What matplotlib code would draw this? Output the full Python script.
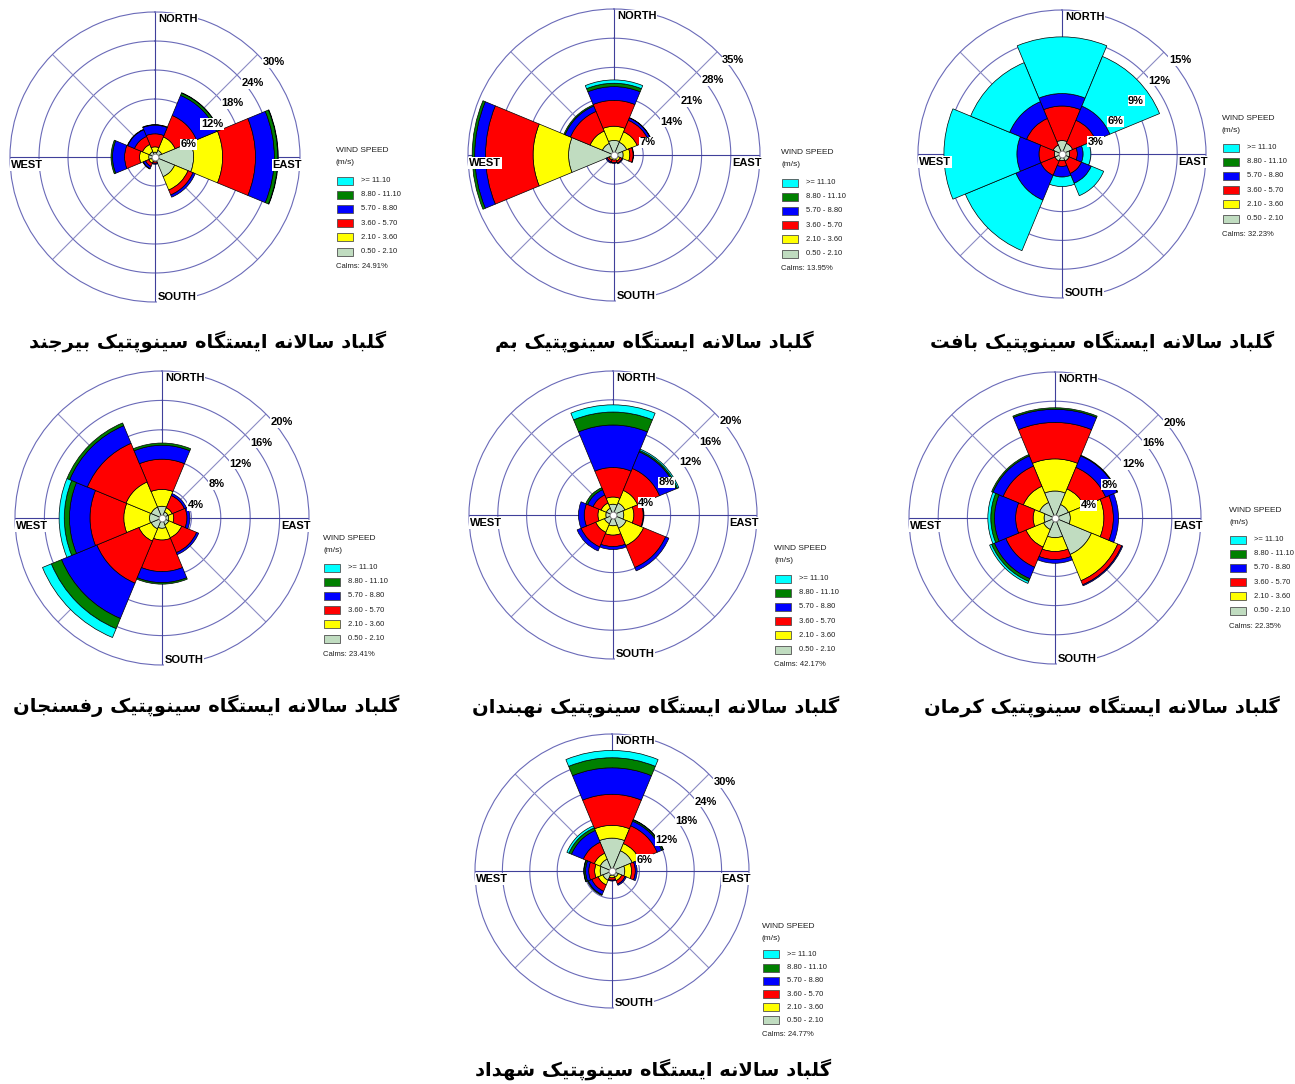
import numpy as np
import matplotlib
matplotlib.use('Agg')
import matplotlib.pyplot as plt
from matplotlib.patches import Rectangle

plt.rcParams['font.family'] = ['Liberation Sans', 'DejaVu Sans']

W_PX, H_PX = 1295, 1084

# compass sectors, clockwise from north
directions = ['N', 'NE', 'E', 'SE', 'S', 'SW', 'W', 'NW']
dir_angles = np.radians(np.arange(0, 360, 45))

# speed classes, inner to outer
class_colors = ['#C0DCC0', '#FFFF00', '#FF0000', '#0000FF', '#008000', '#00FFFF']
legend_labels = ['>= 11.10', '8.80 - 11.10', '5.70 - 8.80', '3.60 - 5.70', '2.10 - 3.60', '0.50 - 2.10']
legend_colors = class_colors[::-1]

# cumulative frequency (%) per direction N..NW, classes 0.5-2.1 .. >=11.1
birjand = [[1.0, 2.1, 4.8, 6.6, 6.7, 6.7],
           [1.5, 4.5, 9.3, 13.8, 14.3, 14.4],
           [8.0, 14.0, 20.8, 24.7, 25.4, 25.5],
           [4.4, 7.4, 8.5, 9.0, 9.0, 9.0],
           [0.7, 1.0, 1.3, 1.5, 1.5, 1.5],
           [0.8, 1.4, 2.1, 2.6, 2.7, 2.7],
           [1.3, 3.2, 6.3, 8.8, 9.1, 9.1],
           [1.2, 2.8, 4.6, 6.1, 6.2, 6.2]]
bam = [[3.5, 6.9, 13.1, 16.4, 17.2, 18.0],
       [3.3, 6.0, 9.0, 9.6, 9.7, 9.7],
       [2.2, 3.8, 4.6, 4.7, 4.7, 4.7],
       [1.0, 1.6, 2.1, 2.3, 2.3, 2.3],
       [0.8, 1.2, 1.8, 2.0, 2.0, 2.0],
       [0.9, 1.3, 1.8, 2.1, 2.1, 2.1],
       [10.9, 19.4, 30.8, 33.4, 34.0, 34.0],
       [3.0, 6.2, 11.3, 12.7, 13.0, 13.0]]
baft = [[1.4, 1.4, 5.0, 6.3, 6.3, 12.2],
        [1.2, 1.2, 3.8, 5.4, 5.4, 11.0],
        [0.8, 0.8, 1.6, 2.2, 2.2, 3.0],
        [0.8, 0.8, 2.2, 3.3, 3.3, 4.7],
        [0.7, 0.7, 1.3, 2.4, 2.4, 3.4],
        [0.8, 0.8, 2.4, 5.2, 5.2, 10.9],
        [0.8, 0.8, 2.4, 4.7, 4.7, 12.3],
        [1.0, 1.0, 4.0, 5.9, 5.9, 10.3]]
rafsanjan = [[1.6, 3.9, 8.0, 9.9, 10.2, 10.2],
             [0.9, 1.5, 3.3, 3.6, 3.6, 3.6],
             [0.9, 1.6, 3.4, 3.8, 3.8, 3.8],
             [1.0, 2.9, 5.1, 5.4, 5.4, 5.4],
             [1.4, 3.0, 7.3, 8.8, 9.0, 9.0],
             [1.6, 3.4, 9.6, 14.8, 16.3, 17.6],
             [1.7, 5.2, 9.8, 12.6, 13.3, 14.0],
             [1.6, 5.3, 11.0, 13.6, 14.0, 14.0]]
nehbandan = [[1.5, 2.5, 6.6, 12.5, 14.3, 15.3],
             [1.8, 3.7, 7.0, 9.5, 9.7, 9.9],
             [1.5, 2.9, 4.2, 4.3, 4.3, 4.3],
             [2.0, 4.6, 7.9, 8.4, 8.4, 8.4],
             [1.5, 2.8, 4.4, 4.8, 4.8, 4.8],
             [1.3, 2.6, 4.8, 5.4, 5.4, 5.4],
             [1.0, 2.1, 4.0, 4.8, 4.8, 4.8],
             [1.0, 1.8, 3.0, 3.8, 4.1, 4.1]]
kerman = [[3.7, 8.1, 13.1, 14.9, 15.1, 15.1],
          [2.0, 4.3, 7.5, 9.2, 9.3, 9.3],
          [2.1, 6.7, 8.0, 8.7, 8.7, 8.7],
          [5.4, 9.3, 9.9, 10.05, 10.05, 10.05],
          [2.7, 4.6, 5.7, 6.2, 6.2, 6.2],
          [1.7, 4.3, 7.3, 9.0, 9.4, 9.7],
          [1.5, 3.0, 5.4, 8.3, 8.8, 9.2],
          [2.3, 4.7, 7.7, 9.2, 9.4, 9.4]]
shahdad = [[7.2, 10.0, 16.8, 22.6, 24.8, 26.4],
           [4.8, 6.5, 10.7, 11.8, 12.1, 12.2],
           [2.8, 4.3, 5.1, 5.5, 5.5, 5.5],
           [1.5, 2.3, 3.1, 3.4, 3.4, 3.4],
           [1.0, 1.5, 2.0, 2.2, 2.2, 2.2],
           [2.2, 3.3, 4.8, 5.6, 5.8, 5.8],
           [2.6, 3.8, 5.1, 5.8, 6.1, 6.2],
           [2.8, 4.2, 6.8, 9.6, 10.2, 10.7]]

station_names = ['بیرجند', 'بم', 'بافت', 'رفسنجان', 'نهبندان', 'کرمان', 'شهداد']
station_data = [birjand, bam, baft, rafsanjan, nehbandan, kerman, shahdad]
calms = [24.91, 13.95, 32.23, 23.41, 42.17, 22.35, 24.77]
ring_step = [6, 7, 3, 4, 4, 4, 6]
title_prefix = 'گلباد سالانه ایستگاه سینوپتیک '

# panel placement in pixels: rose centre, radius, legend corner, title centre
rose_center = [(155, 157), (614, 155), (1062, 154), (162, 518), (613, 515), (1055, 518), (612, 871)]
rose_radius = [145, 146, 144, 147, 144, 146, 137]
legend_pos = [(336, 151), (781, 153), (1222, 118), (323, 538), (774, 549), (1229, 510), (762, 927)]
title_pos = [(208, 341), (654, 341), (1102, 341), (206, 706), (656, 706), (1102, 706), (653, 1069)]

# --- minimal Persian shaping (presentation forms + visual order) ---
AR_FORMS = {
    'ا': ('\ufe8d', '\ufe8e'), 'د': ('\ufea9', '\ufeaa'),
    'ر': ('\ufead', '\ufeae'), 'و': ('\ufeed', '\ufeee'),
    'ب': ('\ufe8f', '\ufe90', '\ufe91', '\ufe92'),
    'ت': ('\ufe95', '\ufe96', '\ufe97', '\ufe98'),
    'ج': ('\ufe9d', '\ufe9e', '\ufe9f', '\ufea0'),
    'س': ('\ufeb1', '\ufeb2', '\ufeb3', '\ufeb4'),
    'ش': ('\ufeb5', '\ufeb6', '\ufeb7', '\ufeb8'),
    'ف': ('\ufed1', '\ufed2', '\ufed3', '\ufed4'),
    'ل': ('\ufedd', '\ufede', '\ufedf', '\ufee0'),
    'م': ('\ufee1', '\ufee2', '\ufee3', '\ufee4'),
    'ن': ('\ufee5', '\ufee6', '\ufee7', '\ufee8'),
    'ه': ('\ufee9', '\ufeea', '\ufeeb', '\ufeec'),
    'پ': ('\ufb56', '\ufb57', '\ufb58', '\ufb59'),
    'ک': ('\ufb8e', '\ufb8f', '\ufb90', '\ufb91'),
    'گ': ('\ufb92', '\ufb93', '\ufb94', '\ufb95'),
    'ی': ('\ufbfc', '\ufbfd', '\ufbfe', '\ufbff'),
}
LAM_ALEF = ('\ufefb', '\ufefc')


def shape_fa(text):
    out = []
    i, n = 0, len(text)
    while i < n:
        c = text[i]
        if c not in AR_FORMS:
            out.append(c)
            i += 1
            continue
        prev = text[i - 1] if i > 0 else None
        joins_prev = prev in AR_FORMS and len(AR_FORMS[prev]) == 4
        if c == 'ل' and i + 1 < n and text[i + 1] == 'ا':
            out.append(LAM_ALEF[1 if joins_prev else 0])
            i += 2
            continue
        nxt = text[i + 1] if i + 1 < n else None
        forms = AR_FORMS[c]
        joins_next = len(forms) == 4 and nxt in AR_FORMS
        if joins_prev and joins_next:
            out.append(forms[3])
        elif joins_prev:
            out.append(forms[1])
        elif joins_next:
            out.append(forms[2])
        else:
            out.append(forms[0])
        i += 1
    return ''.join(reversed(out))


def fx(x):
    return x / W_PX


def fy(y):
    return 1 - y / H_PX


fig = plt.figure(figsize=(W_PX / 100, H_PX / 100), dpi=100, facecolor='white')

ring_color = '#6a6ab8'
axis_color = '#40409a'
diag_color = '#8c8cc4'


def draw_rose(center, R, data, step):
    cx, cy = center
    ax = fig.add_axes([fx(cx - R), fy(cy + R), fx(2 * R), 2 * R / H_PX], projection='polar')
    ax.set_theta_zero_location('N')
    ax.set_theta_direction(-1)
    rmax = step * 5
    ax.set_ylim(0, rmax)
    ax.set_xticks([])
    ax.set_yticks([])
    ax.grid(False)
    ax.spines['polar'].set_color(ring_color)
    ax.spines['polar'].set_linewidth(0.8)

    t = np.linspace(0, 2 * np.pi, 400)
    for r in np.arange(step, rmax, step):
        ax.plot(t, np.full_like(t, r), color=ring_color, lw=0.8, zorder=1)
    for k, a in enumerate(dir_angles):
        ax.plot([a, a], [0, rmax], color=axis_color if k % 2 == 0 else diag_color,
                lw=0.8, zorder=1)

    cum = np.array(data)
    bottoms = np.hstack([np.zeros((8, 1)), cum[:, :-1]])
    for j in range(6):
        h = cum[:, j] - bottoms[:, j]
        keep = h > 0
        ax.bar(dir_angles[keep], h[keep], bottom=bottoms[keep, j], width=np.radians(45),
               color=class_colors[j], edgecolor='black', linewidth=0.5, zorder=2)
    ax.plot([0], [0], 'o', ms=5, mfc='white', mec='#808080', mew=0.8, zorder=5)

    lab_kw = dict(textcoords='offset pixels', fontsize=8, fontweight='bold', va='center',
                  bbox=dict(facecolor='white', edgecolor='none', pad=0.4), zorder=6)
    for r in np.arange(step, rmax + step / 2, step):
        ax.annotate('%d%%' % r, xy=(np.pi / 4, r), xytext=(5, -8), ha='left', **lab_kw)
    ax.annotate('NORTH', xy=(0, rmax), xytext=(3, -7), ha='left', **lab_kw)
    ax.annotate('SOUTH', xy=(np.pi, rmax), xytext=(3, 5), ha='left', **lab_kw)
    ax.annotate('WEST', xy=(1.5 * np.pi, rmax), xytext=(1, -8), ha='left', **lab_kw)
    ax.annotate('EAST', xy=(0.5 * np.pi, rmax), xytext=(2, -8), ha='right', **lab_kw)
    return ax


def draw_legend(pos, calm, s=1.0):
    x, y = pos
    tc = '#202020'
    fig.text(fx(x), fy(y), 'WIND SPEED', fontsize=6, va='center', color=tc)
    fig.text(fx(x), fy(y + 12 * s), '(m/s)', fontsize=6, va='center', color=tc)
    for k, (lab, col) in enumerate(zip(legend_labels, legend_colors)):
        yy = y + (29.5 + 14.2 * k) * s
        fig.patches.append(Rectangle((fx(x + 1), fy(yy + 4)), 16 / W_PX, 8 / H_PX,
                                     transform=fig.transFigure, facecolor=col,
                                     edgecolor='#505050', linewidth=0.6))
        fig.text(fx(x + 25), fy(yy), lab, fontsize=5.5, va='center', color=tc)
    fig.text(fx(x), fy(y + 116 * s), 'Calms: %.2f%%' % calm, fontsize=5.5, va='center', color=tc)


for i in range(7):
    draw_rose(rose_center[i], rose_radius[i], station_data[i], ring_step[i])
    draw_legend(legend_pos[i], calms[i], 0.93 if i == 6 else 1.0)
    tx, ty = title_pos[i]
    fig.text(fx(tx), fy(ty), shape_fa(title_prefix + station_names[i]),
             fontsize=14, fontweight='bold', ha='center', va='center',
             family=['DejaVu Sans'])

fig.savefig('out.png', dpi=100, facecolor='white')
